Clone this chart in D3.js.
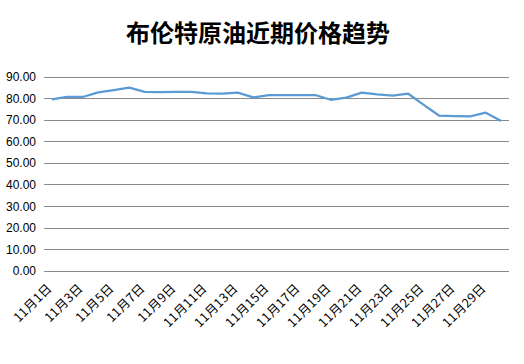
<!DOCTYPE html>
<html>
<head>
<meta charset="utf-8">
<script src="https://cdn.jsdelivr.net/npm/d3@7"></script>
<style>
  body { margin: 0; background: #fff; }
  text { font-family: "Liberation Sans", Arial, "Noto Sans CJK SC", sans-serif; }
</style>
</head>
<body>
<script>
// Brent crude, Nov 1 - Nov 30
const days = d3.range(1, 31).map(d => `11月${d}日`);
const prices = [79.5, 80.6, 80.6, 82.7, 83.8, 84.9, 83.0, 82.9, 83.0, 83.0,
                82.3, 82.2, 82.6, 80.4, 81.5, 81.5, 81.5, 81.5, 79.3, 80.3,
                82.6, 81.8, 81.2, 82.1, 76.9, 71.9, 71.7, 71.6, 73.3, 69.4];
const yTicks = d3.range(0, 100, 10);
const title = "布伦特原油近期价格趋势";

const W = 524, H = 364;
const plotL = 44, plotR = 509, plotT = 76.7, plotB = 270.7;

const svg = d3.select("body").append("svg")
  .attr("width", W).attr("height", H);

const x = d3.scaleBand().domain(days).range([plotL, plotR]);
const y = d3.scaleLinear().domain([0, 90]).range([plotB, plotT]);

svg.append("text")
  .attr("x", 258).attr("y", 42)
  .attr("text-anchor", "middle")
  .style("font-family", "'Noto Sans CJK SC', sans-serif")
  .style("font-weight", "bold")
  .style("font-size", "24px")
  .text(title);

// grid
svg.append("g").selectAll("line").data(yTicks).join("line")
  .attr("x1", plotL).attr("x2", plotR)
  .attr("y1", d => Math.round(y(d)) + 0.5).attr("y2", d => Math.round(y(d)) + 0.5)
  .attr("stroke", "#898989").attr("stroke-width", 1);

svg.append("g").selectAll("text").data(yTicks).join("text")
  .attr("x", 36).attr("y", d => y(d) + 4.5)
  .attr("text-anchor", "end")
  .style("font-size", "12px")
  .attr("fill", "#000")
  .text(d => d.toFixed(2));

// x labels, every other day
svg.append("g").selectAll("text").data(days.filter((d, i) => i % 2 === 0)).join("text")
  .attr("transform", d => `translate(${x(d) + x.bandwidth() / 2 + 1},${289}) rotate(-45)`)
  .attr("text-anchor", "end")
  .style("font-family", "'Noto Sans CJK SC', sans-serif")
  .style("font-size", "12.5px")
  .style("letter-spacing", "0.4px")
  .attr("fill", "#000")
  .text(d => d);

const line = d3.line()
  .x((d, i) => x(days[i]) + x.bandwidth() / 2)
  .y(d => y(d));

svg.append("path").datum(prices)
  .attr("d", line)
  .attr("fill", "none")
  .attr("stroke", "#5b9bd5")
  .attr("stroke-width", 2.25)
  .attr("stroke-linejoin", "round");
</script>
</body>
</html>
